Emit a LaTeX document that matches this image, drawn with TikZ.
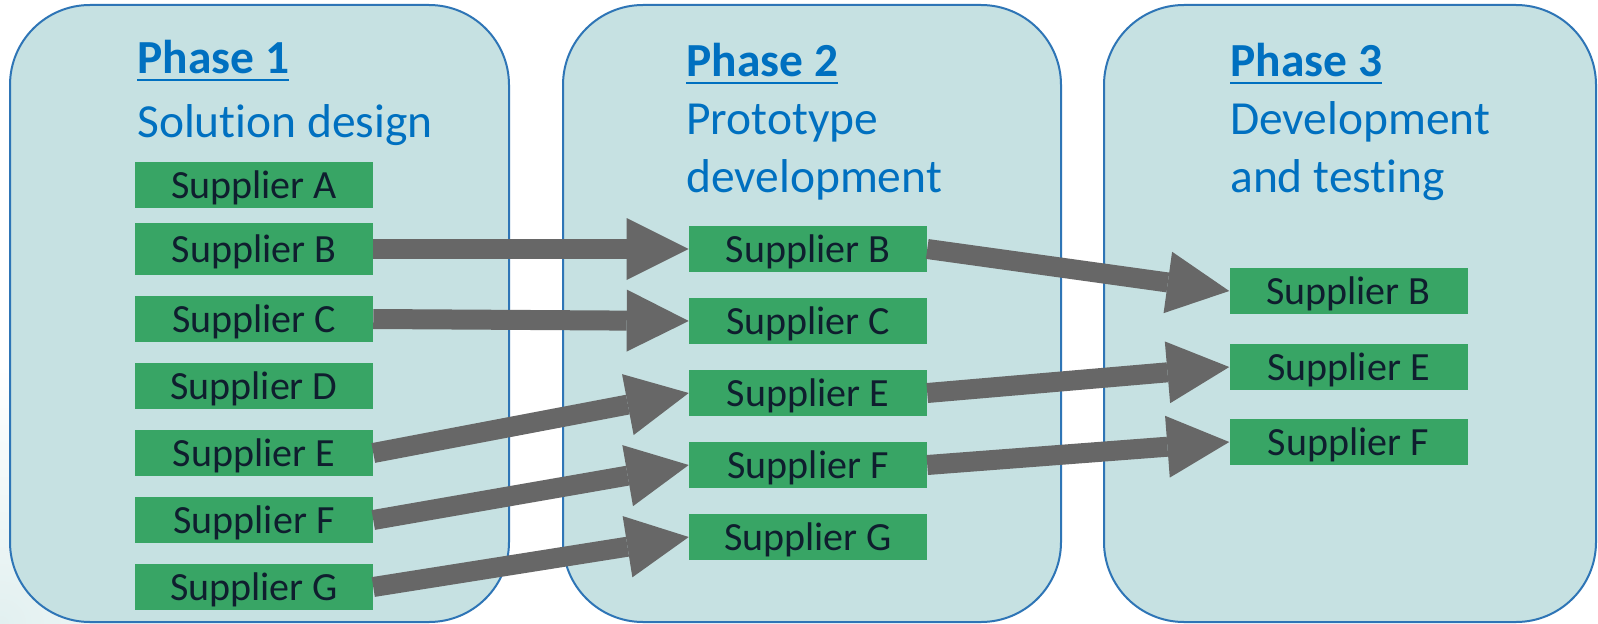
\documentclass[tikz,border=0pt]{standalone}
\usepackage{fontspec}
\setmainfont[Ligatures=CommonOff]{Carlito}
\usetikzlibrary{arrows.meta}
\definecolor{panelfill}{HTML}{C6E1E2}
\definecolor{panelline}{HTML}{2E75B6}
\definecolor{titleblue}{HTML}{0070C0}
\definecolor{boxgreen}{HTML}{38A565}
\definecolor{boxtext}{HTML}{0F1E2E}
\definecolor{arrowgray}{HTML}{676767}
\definecolor{bgtint}{HTML}{E2F0F0}
\begin{document}
\begin{tikzpicture}[x=0.75pt,y=-0.75pt,
 panel/.style={draw=panelline, line width=1.5pt, fill=panelfill, rounded corners=60pt},
 phasetitle/.style={anchor=base west, inner sep=0pt, text=titleblue, font=\fontsize{35.6}{40}\selectfont\bfseries},
 phasesub/.style={anchor=base west, inner sep=0pt, text=titleblue, font=\fontsize{35.6}{40}\selectfont},
 uline/.style={draw=titleblue, line width=2.2pt},
 supbox/.style={fill=boxgreen, text=boxtext, inner sep=0pt, minimum width=178.5pt, minimum height=34.5pt, text height=19.5pt, text depth=0pt, font=\fontsize{30}{34}\selectfont},
 flow/.style={draw=arrowgray, line width=15pt, -{Triangle[length=46.5pt,width=46.5pt,line width=0pt]}}
]
\useasboundingbox (0,0) rectangle (1598,624);
\fill[white] (0,0) rectangle (1598,624);
\shade[inner color=bgtint, outer color=white] (0,624) circle[radius=260];

% panels
\draw[panel] (10,5) rectangle (509,622);
\draw[panel] (563,5) rectangle (1061,622);
\draw[panel] (1104,5) rectangle (1596,622);

% titles
\node[phasetitle] (t1) at (137,74) {Phase 1};
\node[phasesub] (s1) at (137,138) {Solution design};
\node[phasetitle] (t2) at (686,77) {Phase 2};
\node[phasesub] (s2a) at (686,135) {Prototype};
\node[phasesub] (s2b) at (686,192) {development};
\node[phasetitle] (t3) at (1230,77) {Phase 3};
\node[phasesub] (s3a) at (1230,135) {Development};
\node[phasesub] (s3b) at (1230,192) {and testing};
\foreach \t in {t1,t2,t3}{
  \draw[uline] ([yshift=-4.5pt]\t.base west) -- ([yshift=-4.5pt]\t.base east);
}

% phase 1 suppliers
\node[supbox] (a1) at (254,185) {Supplier A};
\node[supbox, minimum height=39pt] (b1) at (254,249) {Supplier B};
\node[supbox] (c1) at (254,319) {Supplier C};
\node[supbox] (d1) at (254,386) {Supplier D};
\node[supbox] (e1) at (254,453) {Supplier E};
\node[supbox] (f1) at (254,520) {Supplier F};
\node[supbox] (g1) at (254,587) {Supplier G};

% phase 2 suppliers
\node[supbox] (b2) at (808,249) {Supplier B};
\node[supbox] (c2) at (808,321) {Supplier C};
\node[supbox] (e2) at (808,393) {Supplier E};
\node[supbox] (f2) at (808,465) {Supplier F};
\node[supbox] (g2) at (808,537) {Supplier G};

% phase 3 suppliers
\node[supbox] (b3) at (1348.5,291) {Supplier B};
\node[supbox] (e3) at (1348.5,367) {Supplier E};
\node[supbox] (f3) at (1348.5,442) {Supplier F};

% arrows
\draw[flow] (b1.east) -- (b2.west);
\draw[flow] (c1.east) -- (c2.west);
\draw[flow] (e1.east) -- (e2.west);
\draw[flow] (f1.east) -- (f2.west);
\draw[flow] (g1.east) -- (g2.west);
\draw[flow] (b2.east) -- (b3.west);
\draw[flow] (e2.east) -- (e3.west);
\draw[flow] (f2.east) -- (f3.west);
\end{tikzpicture}
\end{document}
